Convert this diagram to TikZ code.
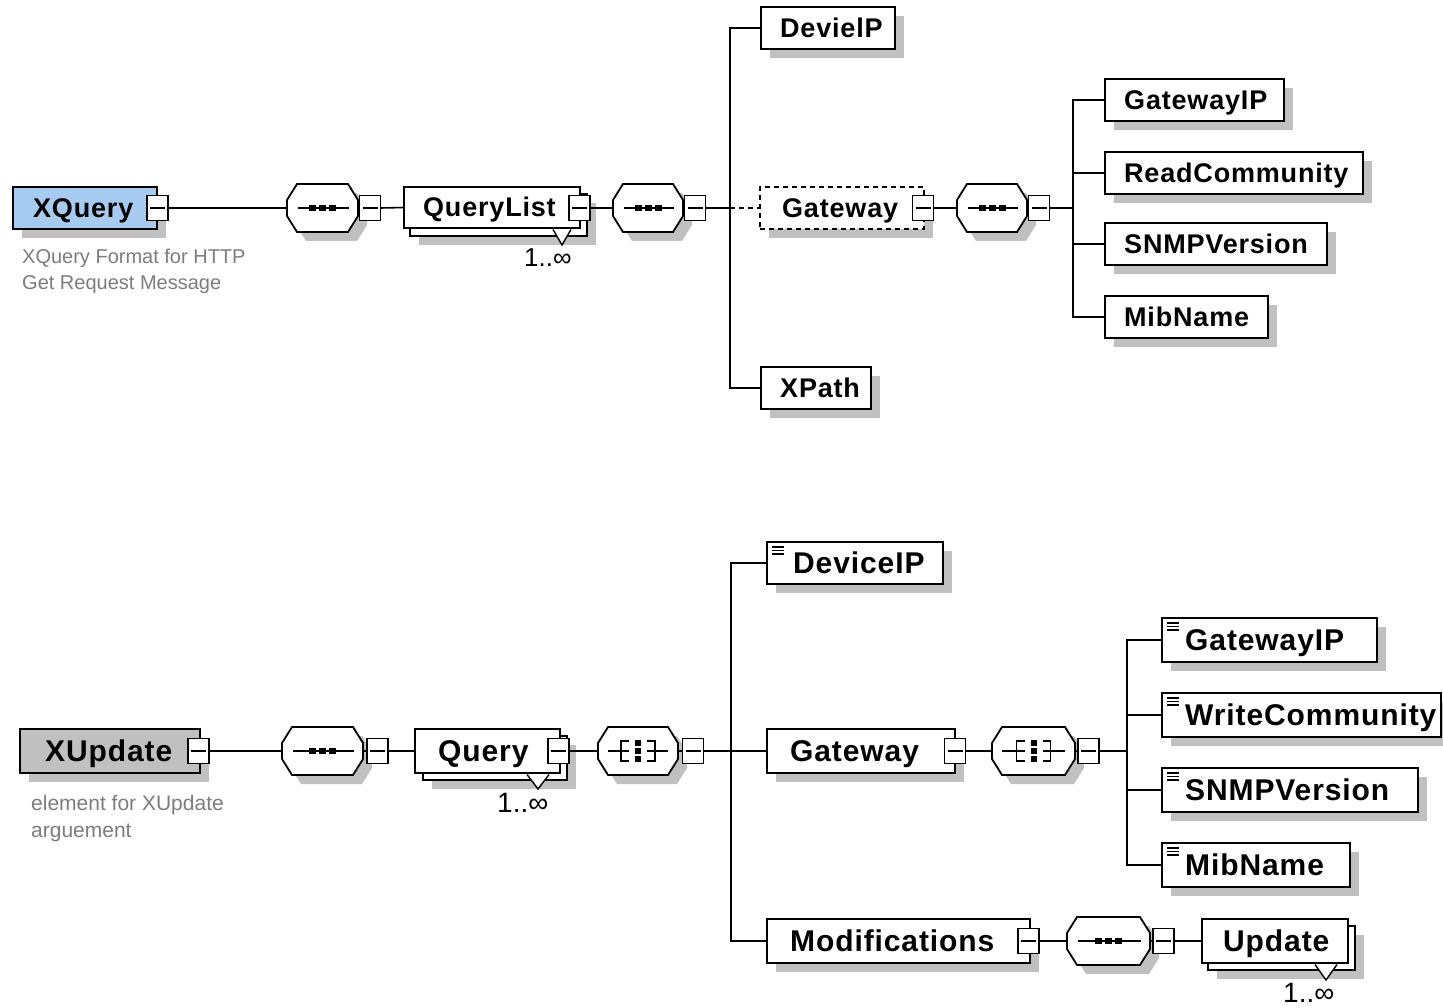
\documentclass[tikz,border=0pt]{standalone}
\usepackage{fontspec}
\setmainfont{Liberation Sans}
\newfontfamily\elfont[LetterSpace=3]{Liberation Sans}
\usetikzlibrary{shadows}

\definecolor{shadowc}{RGB}{192,192,192}
\definecolor{rootblue}{RGB}{166,202,240}
\definecolor{rootgray}{RGB}{192,192,192}
\definecolor{notegray}{RGB}{125,125,125}

\tikzset{
  plainbox/.style={draw, line width=1.8pt, fill=white, inner sep=0pt, outer sep=0pt},
  elbox/.style={plainbox, drop shadow={shadow xshift=9pt, shadow yshift=-9pt, fill=shadowc, opacity=1}},
  dashbox/.style={dash pattern=on 5pt off 4pt},
  toptext/.style={font=\elfont\bfseries\fontsize{27}{30}\selectfont, inner sep=0pt, text height=19pt, text depth=0pt, anchor=west},
  bottext/.style={font=\elfont\bfseries\fontsize{30}{33}\selectfont, inner sep=0pt, text height=21.5pt, text depth=0pt, anchor=west},
  minusbox/.style={draw, line width=1.5pt, fill=white, minimum width=21pt, minimum height=25pt, inner sep=0pt, outer sep=0pt,
    path picture={\draw[line width=1.5pt] ([xshift=3pt]path picture bounding box.west) -- ([xshift=-3pt]path picture bounding box.east);}},
  conn/.style={line width=1.6pt},
  symline/.style={line width=1.5pt},
  octo/.style={draw, line width=1.8pt, fill=white, drop shadow={shadow xshift=9pt, shadow yshift=-9pt, fill=shadowc, opacity=1}},
  notetop/.style={font=\fontsize{20}{26}\selectfont, text=notegray, inner sep=0pt, anchor=base west},
  notebot/.style={font=\fontsize{21}{27}\selectfont, text=notegray, inner sep=0pt, anchor=base west},
  occtop/.style={font=\fontsize{26}{28}\selectfont, inner sep=0pt, anchor=base west},
  occbot/.style={font=\fontsize{28}{30}\selectfont, inner sep=0pt, anchor=base west},
  tri/.style={draw, line width=1.4pt, fill=white},
}

% element box: name, x0, y0, x1, y1, box style, text style, label, text indent
\newcommand\elem[9]{%
  \node[#6, minimum width=#4pt-#2pt, minimum height=#5pt-#3pt] (#1) at ({(#2+#4)/2},{(#3+#5)/2}) {};
  \node[#7] (#1-t) at (#2+#9,{(#3+#5)/2}) {#8};
}

% compositor: name, centre x, centre y, width, symbol (seq or all)
\newcommand\comp[5]{%
  \node[minimum width=#4pt, minimum height=48pt, inner sep=0pt, outer sep=0pt] (#1) at (#2,#3) {};
  \path[octo] (#2-#4/2+10,#3-24) -- (#2+#4/2-10,#3-24) -- (#2+#4/2,#3-8) -- (#2+#4/2,#3+8)
     -- (#2+#4/2-10,#3+24) -- (#2-#4/2+10,#3+24) -- (#2-#4/2,#3+8) -- (#2-#4/2,#3-8) -- cycle;
  \csname sym#5\endcsname{#2}{#3}{#4}%
}
\newcommand\symseq[3]{%
  \draw[symline] (#1-#3/2+11,#2) -- (#1+#3/2-9,#2);
  \foreach \d in {-10,0,10} \fill (#1+\d-3.5,#2-3) rectangle (#1+\d+3.5,#2+3);
}
\newcommand\symall[3]{%
  \draw[symline] (#1-#3/2+10,#2) -- (#1-9,#2);
  \draw[symline] (#1-9,#2-10) -- (#1-17,#2-10) -- (#1-17,#2+10) -- (#1-9,#2+10);
  \draw[symline] (#1+#3/2-10,#2) -- (#1+9,#2);
  \draw[symline] (#1+9,#2-10) -- (#1+17,#2-10) -- (#1+17,#2+10) -- (#1+9,#2+10);
  \foreach \d in {-8,0,8} \fill (#1-3,#2+\d-3) rectangle (#1+3,#2+\d+3);
}
% simple-content marker in the top left corner of a leaf element
\newcommand\leaficon[1]{%
  \foreach \k in {0,1,2}
    \draw[line width=1.1pt] ([xshift=5pt, yshift={-5pt-3.5pt*\k}]#1.north west) -- ++(12,0);
}

\begin{document}
\begin{tikzpicture}[x=1pt, y=-1pt]
\useasboundingbox (0,0) rectangle (1443,1008);
\clip (0,0) rectangle (1443,1008);
\fill[white] (0,0) rectangle (1443,1008);

% ---------------- XQuery ----------------
\coordinate (v1) at (730,208);
\coordinate (v2) at (1073,208);

\elem{xq}{13}{187}{157}{229}{elbox, fill=rootblue}{toptext}{XQuery}{20}
\node[minusbox] (xq-m) at (157.5,208) {};
\node[notetop] (xq-n1) at (22,264) {XQuery Format for HTTP};
\node[notetop] (xq-n2) at (22,290) {Get Request Message};

\comp{s1}{322.5}{208}{71}{seq}
\node[minusbox] (s1-m) at (370,208) {};

\node[elbox, minimum width=177pt, minimum height=42pt] (ql-b) at ({(410+587)/2},{(194+236)/2}) {};
\elem{ql}{404}{187}{580}{228}{plainbox}{toptext}{QueryList}{19}
\draw[tri] (553,229.5) -- (562,245) -- (571,229.5);
\node[minusbox] (ql-m) at (579.5,208) {};
\node[occtop] (ql-o) at (524,267) {1..∞};

\comp{s2}{648}{208}{70}{seq}
\node[minusbox] (s2-m) at (695,208) {};

\elem{dip}{761}{7}{895}{49}{elbox}{toptext}{DevielP}{19}
\elem{gw}{760}{187}{924}{229}{elbox, dashbox}{toptext}{Gateway}{22}
\node[minusbox] (gw-m) at (923,208) {};
\elem{xp}{761}{367}{871}{409}{elbox}{toptext}{XPath}{19}

\comp{s3}{992}{208}{70}{seq}
\node[minusbox] (s3-m) at (1039,208) {};

\elem{gip}{1105}{79}{1284}{121}{elbox}{toptext}{GatewayIP}{19}
\elem{rc}{1105}{152}{1363}{194}{elbox}{toptext}{ReadCommunity}{19}
\elem{snmp}{1105}{223}{1327}{265}{elbox}{toptext}{SNMPVersion}{19}
\elem{mib}{1105}{296}{1268}{338}{elbox}{toptext}{MibName}{19}

\draw[conn] (xq-m.east) -- (s1.west);
\draw[conn] (s1.east) -- (s1-m.west);
\draw[conn] (s1-m.east) -- (ql.west);
\draw[conn] (ql-m.east) -- (s2.west);
\draw[conn] (s2.east) -- (s2-m.west);
\draw[conn] (s2-m.east) -- (v1);
\draw[conn] (dip.west) -| (v1) |- (xp.west);
\draw[conn, dash pattern=on 5pt off 4pt] (v1) -- (gw.west);
\draw[conn] (gw-m.east) -- (s3.west);
\draw[conn] (s3.east) -- (s3-m.west);
\draw[conn] (s3-m.east) -- (v2);
\draw[conn] (gip.west) -| (v2) |- (mib.west);
\draw[conn] (rc.west) -- (rc.west -| v2);
\draw[conn] (snmp.west) -- (snmp.west -| v2);

% ---------------- XUpdate ----------------
\coordinate (v3) at (731,751);
\coordinate (v4) at (1127,751);

\elem{xu}{20}{729}{200}{773}{elbox, fill=rootgray}{bottext}{XUpdate}{25}
\node[minusbox] (xu-m) at (198.5,751) {};
\node[notebot] (xu-n1) at (31,810) {element for XUpdate};
\node[notebot] (xu-n2) at (31,837) {arguement};

\comp{s4}{322.5}{751}{81}{seq}
\node[minusbox] (s4-m) at (377.5,751) {};

\node[elbox, minimum width=144pt, minimum height=44pt] (q-b) at ({(423+567)/2},{(736+780)/2}) {};
\elem{q}{415}{729}{560}{773}{plainbox}{bottext}{Query}{23}
\draw[tri] (527,774.5) -- (538,789) -- (549,774.5);
\node[minusbox] (q-m) at (558.5,751) {};
\node[occbot] (q-o) at (497,812) {1..∞};

\comp{a1}{638}{751}{80}{all}
\node[minusbox] (a1-m) at (693,751) {};

\elem{dev}{767}{542}{943}{584}{elbox}{bottext}{DeviceIP}{26}
\leaficon{dev}
\elem{gw2}{767}{729}{955}{773}{elbox}{bottext}{Gateway}{23}
\node[minusbox] (gw2-m) at (955,751) {};
\elem{mod}{767}{919}{1030}{963}{elbox}{bottext}{Modifications}{23}
\node[minusbox] (mod-m) at (1028.5,941) {};

\comp{a2}{1033.5}{751}{83}{all}
\node[minusbox] (a2-m) at (1088.5,751) {};

\elem{gip2}{1162}{618}{1377}{662}{elbox}{bottext}{GatewayIP}{23}
\leaficon{gip2}
\elem{wc}{1162}{693}{1441}{737}{elbox}{bottext}{WriteCommunity}{23}
\leaficon{wc}
\elem{snmp2}{1162}{768}{1418}{812}{elbox}{bottext}{SNMPVersion}{23}
\leaficon{snmp2}
\elem{mib2}{1162}{843}{1350}{887}{elbox}{bottext}{MibName}{23}
\leaficon{mib2}

\comp{s5}{1108.5}{941}{83}{seq}
\node[minusbox] (s5-m) at (1163.5,941) {};

\node[elbox, minimum width=147pt, minimum height=44pt] (up-b) at ({(1208+1355)/2},{(926+970)/2}) {};
\elem{up}{1202}{919}{1348}{963}{plainbox}{bottext}{Update}{21}
\draw[tri] (1315,964.5) -- (1326,980) -- (1337,964.5);
\node[occbot] (up-o) at (1283,1002) {1..∞};

\draw[conn] (xu-m.east) -- (s4.west);
\draw[conn] (s4.east) -- (s4-m.west);
\draw[conn] (s4-m.east) -- (q.west);
\draw[conn] (q-m.east) -- (a1.west);
\draw[conn] (a1.east) -- (a1-m.west);
\draw[conn] (a1-m.east) -- (v3);
\draw[conn] (dev.west) -| (v3) |- (mod.west);
\draw[conn] (v3) -- (gw2.west);
\draw[conn] (gw2-m.east) -- (a2.west);
\draw[conn] (a2.east) -- (a2-m.west);
\draw[conn] (a2-m.east) -- (v4);
\draw[conn] (gip2.west) -| (v4) |- (mib2.west);
\draw[conn] (wc.west) -- (wc.west -| v4);
\draw[conn] (snmp2.west) -- (snmp2.west -| v4);
\draw[conn] (mod-m.east) -- (s5.west);
\draw[conn] (s5.east) -- (s5-m.west);
\draw[conn] (s5-m.east) -- (up.west);
\end{tikzpicture}
\end{document}
